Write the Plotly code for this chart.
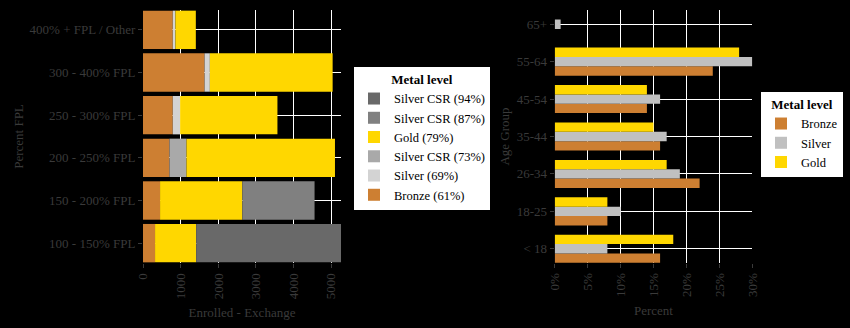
import numpy as np
import plotly.graph_objects as go

# ---- Left chart data: enrollment by Percent FPL and metal level ----
fpl_categories = ["100 - 150% FPL", "150 - 200% FPL", "200 - 250% FPL",
                  "250 - 300% FPL", "300 - 400% FPL", "400% + FPL / Other"]
# stacking order from left to right
bronze_61 = [320, 453, 702, 790, 1634, 790]
silver_69 = [0, 0, 0, 196, 142, 71]
silver_csr_73 = [0, 0, 453, 0, 0, 0]
gold_79 = [1092, 2185, 3943, 2584, 3260, 542]
silver_csr_87 = [0, 1918, 0, 0, 0, 0]
silver_csr_94 = [3846, 0, 0, 0, 0, 0]

left_series = [
    ("Bronze (61%)", bronze_61, "#CD7F32"),
    ("Silver (69%)", silver_69, "#D3D3D3"),
    ("Silver CSR (73%)", silver_csr_73, "#A9A9A9"),
    ("Gold (79%)", gold_79, "#FFD700"),
    ("Silver CSR (87%)", silver_csr_87, "#808080"),
    ("Silver CSR (94%)", silver_csr_94, "#696969"),
]
left_ticks = [0, 1000, 2000, 3000, 4000, 5000]

# ---- Right chart data: percent by age group and metal level ----
age_groups = ["< 18", "18-25", "26-34", "35-44", "45-54", "55-64", "65+"]
bronze_pct = [16, 8, 22, 16, 14, 24, 0]
silver_pct = [8, 10, 19, 17, 16, 30, 0.9]
gold_pct = [18, 8, 17, 15, 14, 28, 0]
right_ticks = [0, 5, 10, 15, 20, 25, 30]
right_ticklabels = ["0%", "5%", "10%", "15%", "20%", "25%", "30%"]

TEXT = "#3a3a3a"
FONT = "Liberation Serif"

fig = go.Figure()

base = np.zeros(len(fpl_categories))
for name, vals, col in left_series:
    vals = np.array(vals, dtype=float)
    fig.add_trace(go.Bar(
        y=fpl_categories, x=vals, base=base.copy(), orientation="h",
        name=name, marker=dict(color=col, line=dict(width=0)),
        width=0.9, offset=-0.45, xaxis="x", yaxis="y", legend="legend",
        showlegend=True, hoverinfo="x+y+name"))
    base = base + vals
left_max = float(base.max())

right_series = [
    ("Bronze", bronze_pct, "#CD7F32", -0.375),
    ("Silver", silver_pct, "#C0C0C0", -0.125),
    ("Gold", gold_pct, "#FFD700", 0.125),
]
for name, vals, col, off in right_series:
    fig.add_trace(go.Bar(
        y=age_groups, x=vals, orientation="h", name=name,
        marker=dict(color=col, line=dict(width=0)),
        width=0.25, offset=off, xaxis="x2", yaxis="y2", legend="legend2"))

axis_common = dict(showline=False, zeroline=False, ticks="outside", ticklen=4,
                   tickcolor=TEXT, tickfont=dict(family=FONT, size=13, color=TEXT),
                   gridcolor="#FFFFFF", gridwidth=1, automargin=False)
title_font = dict(family=FONT, size=13, color=TEXT)

fig.update_layout(
    width=850, height=328,
    margin=dict(l=0, r=0, t=0, b=0),
    paper_bgcolor="#000000", plot_bgcolor="#000000",
    barmode="overlay",
    font=dict(family=FONT, color=TEXT, size=13),
    xaxis=dict(domain=[143/850, 341/850], range=[0, left_max], tickvals=left_ticks,
               tickangle=-90, anchor="y",
               title=dict(text="Enrolled - Exchange", standoff=9, font=title_font),
               **axis_common),
    yaxis=dict(domain=[1 - 263/328, 1 - 10/328], type="category",
               categoryorder="array", categoryarray=fpl_categories,
               range=[-0.465, 5.465], anchor="x", showgrid=True,
               title=dict(text="Percent FPL", standoff=3, font=title_font),
               **axis_common),
    xaxis2=dict(domain=[554.7/850, 752.3/850], range=[0, 30], tickvals=right_ticks,
                ticktext=right_ticklabels, tickangle=-90, anchor="y2",
                title=dict(text="Percent", standoff=9, font=title_font),
                **axis_common),
    yaxis2=dict(domain=[1 - 263/328, 1 - 10/328], type="category",
                categoryorder="array", categoryarray=age_groups,
                range=[-0.38, 6.38], anchor="x2", showgrid=True,
                title=dict(text="Age Group", standoff=4, font=title_font),
                **axis_common),
    legend=dict(x=354/850, y=1 - 67/328, xanchor="left", yanchor="top",
                bgcolor="#FFFFFF", traceorder="reversed",
                title=dict(text="<b>Metal level</b>", side="top center",
                           font=dict(family=FONT, size=13, color="#000000")),
                font=dict(family=FONT, size=12.5, color="#000000"),
                itemwidth=30),
    legend2=dict(x=843/850, y=1 - 92/328, xanchor="right", yanchor="top",
                 bgcolor="#FFFFFF", traceorder="normal",
                 title=dict(text="<b>Metal level</b>", side="top center",
                            font=dict(family=FONT, size=13, color="#000000")),
                 font=dict(family=FONT, size=12.5, color="#000000"),
                 itemwidth=30),
)

fig.write_html("out.html")
